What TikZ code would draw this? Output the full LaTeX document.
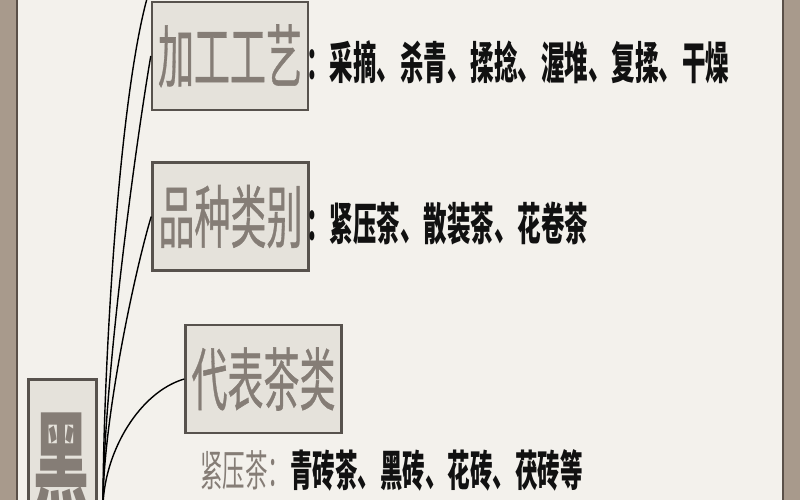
\documentclass[tikz,border=0pt]{standalone}
\usepackage{fontspec}
\usepackage{graphicx}
\newfontfamily\cjk{Noto Sans CJK SC}
\newfontfamily\cjkt[FakeBold=0.8]{Noto Sans CJK SC}
\definecolor{paper}{HTML}{F3F1EC}
\definecolor{boxfill}{HTML}{E5E2DB}
\definecolor{boxline}{HTML}{57524D}
\definecolor{titlegray}{HTML}{857D76}
\definecolor{strip}{HTML}{A89A8C}
\definecolor{stripline}{HTML}{5A5048}
\definecolor{ink}{HTML}{111111}
\tikzset{
  titlebox/.style={draw=boxline, line width=2.5pt, fill=boxfill, text=titlegray,
    inner sep=0pt, minimum width=156pt, minimum height=108pt,
    font=\cjkt\fontsize{36}{36}\selectfont},
  desc/.style={anchor=west, inner sep=0pt, text=ink,
    font=\cjk\bfseries\fontsize{23.5}{23.5}\selectfont},
  link/.style={draw=black, line width=1.4pt},
}
\newcommand{\tall}[1]{\scalebox{1}[1.9]{#1}}
\begin{document}
\begin{tikzpicture}[x=1pt,y=-1pt]
\useasboundingbox (0,0) rectangle (800,500);
\fill[paper] (0,0) rectangle (800,500);
% side strips
\fill[strip] (0,0) rectangle (17,500);
\draw[stripline, line width=1.5pt] (17,0) -- (17,500);
\fill[strip] (783,0) rectangle (800,500);
\draw[stripline, line width=1.5pt] (783,0) -- (783,500);

% root box (cut off at the bottom, as in the reference)
\node[titlebox, minimum width=68pt, minimum height=140pt, anchor=north west] (root) at (27,378) {};
\node[anchor=north, inner sep=0pt, text=titlegray,
  font=\cjk\bfseries\fontsize{56}{56}\selectfont] (rootlabel) at (61,413) {\tall{黑}};

% title boxes
\node[titlebox] (jg) at (230,56) {\tall{加工工艺}};
\node[titlebox] (pz) at (230.5,216.5) {\tall{品种类别}};
\node[titlebox] (db) at (263.5,379) {\tall{代表茶类}};

% descriptions
\node[desc] (jgd) at (306,62) {\tall{：采摘、杀青、揉捻、渥堆、复揉、干燥}};
\node[desc] (pzd) at (306,224) {\tall{：紧压茶、散装茶、花卷茶}};
\node[anchor=west, inner sep=0pt, font=\cjk\fontsize{22.5}{22.5}\selectfont] (dbd) at (200,470)
  {\tall{\textcolor{titlegray}{紧压茶：}\textcolor{ink}{\bfseries 青砖茶、黑砖、花砖、茯砖等}}};

% connectors
\coordinate (r) at (103,505);
\coordinate (up) at (148,-5);
\draw[link] (r) .. controls (103,380) and (118,100) .. (up);
\draw[link] (r) .. controls (103,400) and (130,180) .. (jg.west);
\draw[link] (r) .. controls (103,420) and (135,270) .. (pz.west);
\draw[link] (r) .. controls (105,450) and (140,392) .. (db.west);
\end{tikzpicture}
\end{document}
